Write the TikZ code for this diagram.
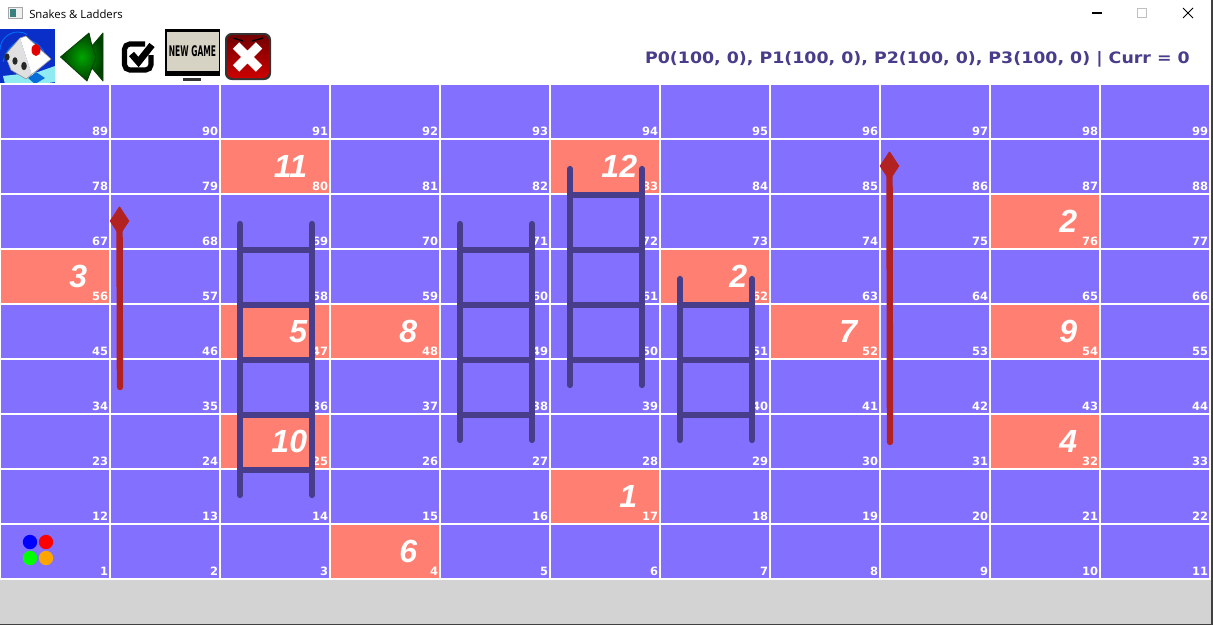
\documentclass[tikz,border=0pt]{standalone}
\usepackage{fontspec}
\setmainfont{DejaVu Sans}
\newfontfamily\titlefont{Open Sans}
\newfontfamily\bigfont{Liberation Sans}
\usetikzlibrary{shapes.geometric}
\definecolor{board}{HTML}{8470FF}
\definecolor{hot}{HTML}{FF8072}
\definecolor{ladder}{HTML}{483D8B}
\definecolor{snake}{HTML}{B22222}
\definecolor{floorgray}{HTML}{D3D3D3}
\definecolor{diceblue}{HTML}{0A2FC8}
\definecolor{dicecyan}{HTML}{8FEAF2}
\definecolor{tokenorange}{HTML}{FFA500}
\definecolor{panelbeige}{HTML}{D6D3C4}
\tikzset{
  cellbox/.style={draw=white,line width=1.5pt,fill=board,minimum width=82.5pt,minimum height=41.25pt,inner sep=0pt,outer sep=0pt},
  numlabel/.style={text=white,font=\fontsize{8.6}{9}\selectfont\bfseries,anchor=base east,inner sep=0pt},
  biglabel/.style={text=white,font=\fontsize{24}{26}\selectfont\bigfont\bfseries\itshape,anchor=base east,inner sep=0pt},
  laddersty/.style={draw=ladder,line width=4.7pt,line cap=round},
  rungsty/.style={draw=ladder,line width=4.2pt},
  snakesty/.style={draw=snake,line width=4.8pt,line cap=round},
  headsty/.style={diamond,fill=snake,draw=snake,line width=1pt,line join=round,minimum width=14pt,minimum height=21pt,inner sep=0pt,aspect=0.67},
  tokensty/.style={circle,minimum size=10.8pt,inner sep=0pt},
}
\begin{document}
\begin{tikzpicture}[x=0.75pt,y=-0.75pt]
\useasboundingbox (0,0) rectangle (1213,625);
\fill[white] (0,0) rectangle (1213,625);
\fill[floorgray] (0,579) rectangle (1211,624);
\fill[black!75] (0,624) rectangle (1213,625);
\fill[black!75] (1211,0) rectangle (1213,625);
% title bar
\node[draw=black!35,fill=black!6,minimum width=10.5pt,minimum height=8.5pt,inner sep=0pt] (winicon) at (15.5,13) {};
\fill[teal!55!gray] (10,9) rectangle (16,17);
\node[anchor=base west,inner sep=0pt,font=\fontsize{8.5}{10}\selectfont\titlefont] (wintitle) at (29,18) {Snakes \& Ladders};
\draw[line width=0.8pt] (1092,13) -- (1102,13);
\draw[black!25,line width=0.6pt] (1137.5,8.5) rectangle (1146.5,17.5);
\draw[line width=0.7pt] (1183,8) -- (1193,18) (1193,8) -- (1183,18);
% toolbar: dice
\fill[diceblue] (0,29) rectangle (55,84);
\draw[blue!55!cyan,line width=0.6pt] (3,62) arc (200:320:24 and 34);
\draw[blue!55!cyan,line width=0.6pt] (0,50) arc (180:300:18 and 18);
\fill[dicecyan] (38,72) -- (55,66) -- (55,82) -- (42,84) -- (5,84) -- (3,76) -- cycle;
\fill[diceblue!70!cyan] (28,78) -- (36,72) -- (45,78) -- (35,84) -- cycle;
\fill[black!12] (5,55) -- (20,38) -- (32,75) -- (26,79) -- (11,70) -- cycle;
\fill[white] (20,38) -- (26,36) -- (51,59) -- (32,75) -- cycle;
\draw[black!45,line width=0.4pt,line join=round] (5,55) -- (20,38) -- (26,36) -- (51,59) -- (26,79) -- (11,70) -- cycle;
\fill[red!90!black] (36,50) ellipse (4.5 and 6);
\fill[black!85] (7,57) ellipse (2.6 and 3.6) (15,61) ellipse (2.6 and 3.8) (24,66) ellipse (2.8 and 4.2);
% toolbar: back arrows
\shade[inner color=green!65!black,outer color=green!25!black,draw=black!75!green,line width=0.6pt,line join=round]
  (60.5,57) -- (89,33) -- (92,46) -- (103,33) -- (103,81) -- (92,68) -- (87,81) -- cycle;
\draw[black!70!green,line width=0.6pt] (92,46) -- (96,57) -- (92,68);
% toolbar: check box
\draw[line width=3.9pt,rounded corners=4pt] (145,44) -- (124.5,44) -- (124.5,70) -- (151,70) -- (151,55);
\draw[line width=5pt] (131.5,54) -- (138.5,62) -- (152,45);
% toolbar: new game
\fill[black] (165,29) rectangle (220,76);
\fill[panelbeige] (166.5,32) rectangle (218.5,71);
\node[font=\fontsize{9}{9}\selectfont\bfseries,inner sep=0pt,xscale=0.63,yscale=1.22] (newgame) at (192.5,51.5) {NEW GAME};
\fill[black!80] (183,78) rectangle (201,81);
% toolbar: close
\fill[black!80,rounded corners=5pt] (225,33) rectangle (271,80);
\shade[top color=red!45!black,bottom color=red!80!black,rounded corners=4pt] (227,35) rectangle (269,78);
\draw[black,line width=1pt] (233,38) -- (243,41) (252,41) -- (263,38);
\draw[white,line width=6.8pt] (236,45.5) -- (259,68.5) (259,45.5) -- (236,68.5);
% status text
\node[anchor=base east,inner sep=0pt,text=ladder,xscale=1.105,font=\fontsize{11.8}{14}\selectfont\bfseries] (status) at (1190,63) {P0(100, 0), P1(100, 0), P2(100, 0), P3(100, 0) | Curr = 0};
% board
\foreach \r in {0,...,8}{
  \foreach \c in {0,...,10}{
    \pgfmathtruncatemacro{\n}{11*\r+\c+1}
    \node[cellbox] (c\n) at ({\c*110+55},{524-55*\r+27.5}) {};
  }
}
\foreach \n/\t in {80/11,83/12,76/2,56/3,62/2,47/5,48/8,52/7,54/9,25/10,32/4,17/1,4/6}{
  \node[cellbox,fill=hot] (h\n) at (c\n) {};
}
\foreach \r in {0,...,8}{
  \foreach \c in {0,...,10}{
    \pgfmathtruncatemacro{\n}{11*\r+\c+1}
    \node[numlabel] (l\n) at ([xshift=-1.2pt,yshift=2.6pt]c\n.south east) {\n};
  }
}
\foreach \n/\t in {80/11,83/12,76/2,56/3,62/2,47/5,48/8,52/7,54/9,25/10,32/4,17/1,4/6}{
  \node[biglabel] (b\n) at ([xshift=-17pt,yshift=12.2pt]c\n.south east) {\t};
}
% tokens
\node[tokensty,fill=blue] (p0) at (30,542) {};
\node[tokensty,fill=red] (p1) at (46,542) {};
\node[tokensty,fill=green] (p2) at (30,558) {};
\node[tokensty,fill=tokenorange] (p3) at (46,558) {};
% ladders
\foreach \xa/\xb/\ya/\yb/\rungs in {240/312/224/495/{250,305,360,415,470},460/532/224/440/{250,305,360,415},570/642/169/385/{195,250,305,360},680/752/279/440/{305,360,415}}{
  \foreach \y in \rungs { \draw[rungsty] (\xa,\y) -- (\xb,\y); }
  \draw[laddersty] (\xa,\ya) -- (\xa,\yb);
  \draw[laddersty] (\xb,\ya) -- (\xb,\yb);
}
% snakes
\coordinate (sa) at (120,387);
\node[headsty] (ha) at (119.5,221) {};
\draw[snakesty] (ha.center) -- (sa);
\coordinate (sb) at (890,442);
\node[headsty] (hb) at (889.5,166) {};
\draw[snakesty] (hb.center) -- (sb);
\end{tikzpicture}
\end{document}
